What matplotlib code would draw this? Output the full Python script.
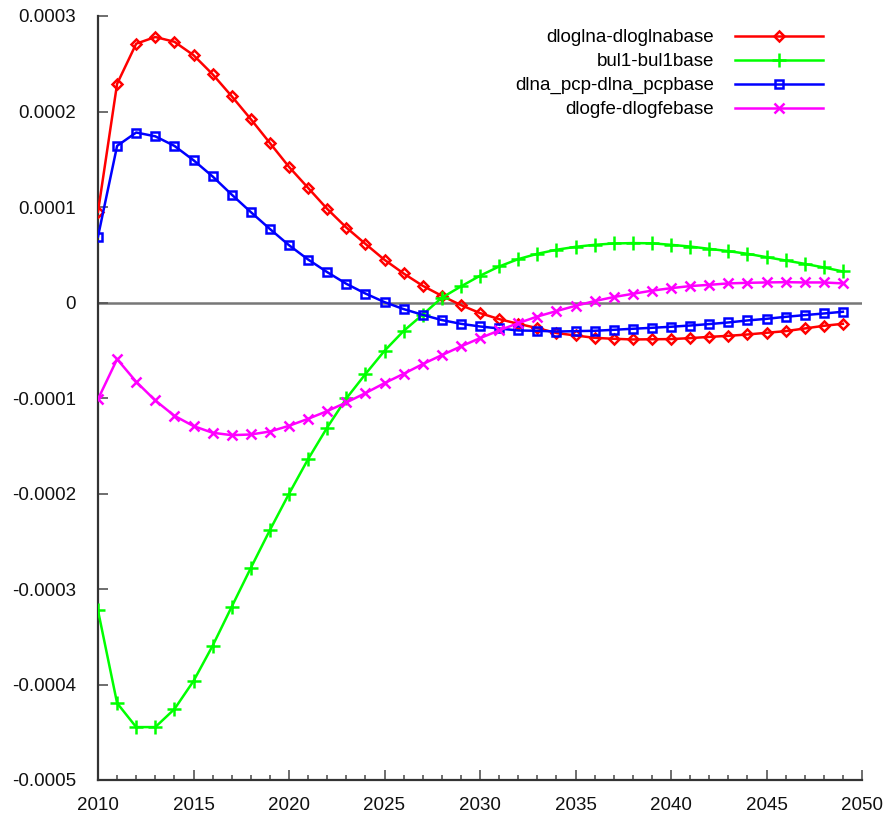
import matplotlib
matplotlib.use("Agg")
import matplotlib.pyplot as plt
from matplotlib.ticker import MultipleLocator, FuncFormatter

plt.rcParams['font.family'] = ['Liberation Sans', 'DejaVu Sans']
plt.rcParams['axes.unicode_minus'] = False

years = list(range(2010, 2050))

dloglna = [0.95, 2.29, 2.71, 2.78, 2.73, 2.59, 2.39, 2.16, 1.92, 1.67,
           1.42, 1.20, 0.98, 0.785, 0.614, 0.447, 0.304, 0.175, 0.07, -0.027,
           -0.111, -0.174, -0.223, -0.268, -0.32, -0.345, -0.37, -0.38, -0.387, -0.385,
           -0.383, -0.373, -0.36, -0.349, -0.335, -0.317, -0.30, -0.272, -0.244, -0.223]

bul1 = [-3.225, -4.195, -4.446, -4.446, -4.258, -3.964, -3.595, -3.186, -2.78, -2.383,
        -2.003, -1.64, -1.309, -1.005, -0.75, -0.506, -0.298, -0.127, 0.05, 0.168,
        0.28, 0.377, 0.454, 0.51, 0.552, 0.583, 0.604, 0.618, 0.622, 0.62,
        0.604, 0.586, 0.562, 0.538, 0.51, 0.475, 0.44, 0.405, 0.367, 0.325]

dlna_pcp = [0.69, 1.64, 1.78, 1.74, 1.64, 1.49, 1.32, 1.13, 0.947, 0.77,
            0.60, 0.45, 0.318, 0.196, 0.094, 0.004, -0.069, -0.129, -0.184, -0.223,
            -0.251, -0.272, -0.293, -0.296, -0.304, -0.30, -0.296, -0.286, -0.275, -0.265,
            -0.254, -0.241, -0.226, -0.209, -0.188, -0.171, -0.15, -0.132, -0.115, -0.097]

dlogfe = [-1.012, -0.593, -0.83, -1.026, -1.186, -1.294, -1.364, -1.389, -1.382, -1.351,
          -1.291, -1.218, -1.137, -1.047, -0.949, -0.844, -0.747, -0.645, -0.551, -0.46,
          -0.373, -0.293, -0.216, -0.147, -0.09, -0.035, 0.015, 0.057, 0.091, 0.124,
          0.15, 0.172, 0.185, 0.2, 0.206, 0.21, 0.213, 0.21, 0.21, 0.2]

scale = 1e-4
series = [
    ("dloglna-dloglnabase", dloglna, "#ff0000", "D", 5.5, True),
    ("bul1-bul1base", bul1, "#00ff00", "+", 10, False),
    ("dlna_pcp-dlna_pcpbase", dlna_pcp, "#0000ff", "s", 5.5, True),
    ("dlogfe-dlogfebase", dlogfe, "#ff00ff", "x", 7, False),
]

fig = plt.figure(figsize=(8.96, 8.16), dpi=100)
ax = fig.add_axes([98 / 896, 1 - 780 / 816, 764 / 896, 764 / 816])

ax.axhline(0, color="#777777", lw=1.8, zorder=1)

for label, vals, color, marker, ms, hollow in series:
    ax.plot(years, [v * scale for v in vals], color=color, lw=1.8,
            marker=marker, ms=ms, mew=1.8,
            mfc="none" if hollow else color, mec=color,
            label=label, zorder=3)

ax.set_xlim(2010, 2050)
ax.set_ylim(-0.0005, 0.0003)
ax.xaxis.set_major_locator(MultipleLocator(5))
ax.xaxis.set_minor_locator(MultipleLocator(1))
ax.yaxis.set_major_locator(MultipleLocator(0.0001))
ax.yaxis.set_major_formatter(FuncFormatter(lambda v, p: "0" if abs(v) < 1e-9 else f"{v:.4f}"))

for s in ("top", "right"):
    ax.spines[s].set_visible(False)
for s in ("left", "bottom"):
    ax.spines[s].set_color("#333333")
    ax.spines[s].set_linewidth(1.6)

ax.tick_params(axis="both", which="major", direction="in", length=7, width=1.2,
               color="#555555", labelsize=13.5, labelcolor="#111111")
ax.tick_params(axis="x", which="minor", direction="in", length=3.6, width=1.2, color="#555555")
ax.tick_params(axis="y", which="major", pad=16)
ax.tick_params(axis="x", which="major", pad=12)

leg = ax.legend(loc="upper right", bbox_to_anchor=(0.949, 0.9825), frameon=False,
                markerfirst=False, fontsize=13.5, handlelength=4.7, handletextpad=1.1,
                labelspacing=0.36, borderpad=0, borderaxespad=0)

# right-align the legend rows so labels end flush against their line samples
for column in leg._legend_handle_box.get_children():
    column.align = "right"

fig.savefig("out.png", dpi=100)
